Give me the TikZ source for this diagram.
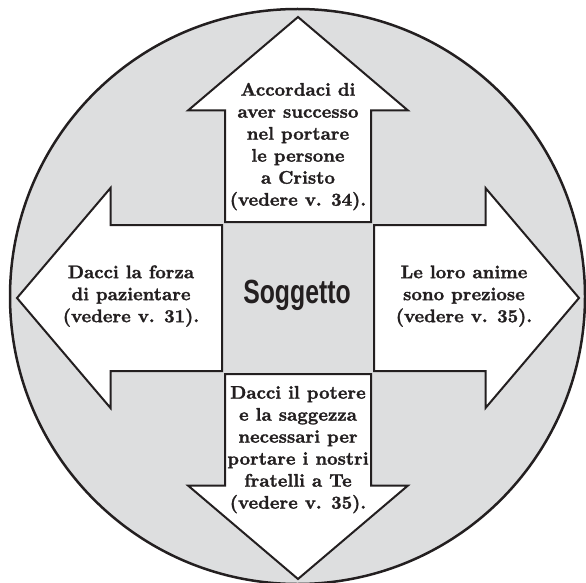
\documentclass[tikz,border=0pt]{standalone}
\usepackage{fontspec}
\newfontfamily\sogfont{Liberation Sans}
\newfontface\arrowfont{lmroman10-bold.otf}[FakeBold=1.5]
\definecolor{discgray}{RGB}{221,222,223}
\definecolor{ink}{RGB}{35,31,32}
\begin{document}
\begin{tikzpicture}[x=1pt,y=-1pt,
  arrowshape/.style={draw=ink, fill=white, line width=2pt, line join=miter},
  arrowtext/.style={align=center, inner sep=0pt, text=ink,
    font=\arrowfont\fontsize{18.3}{22}\selectfont},
  subjecttext/.style={inner sep=0pt, text=ink}
]
\useasboundingbox (0,0) rectangle (586,583);
\node[circle, draw=ink, fill=discgray, line width=2.5pt, minimum size=575pt, inner sep=0pt] (disc) at (297.5,296.5) {};
\foreach \ang in {0,90,180,270}{
  \begin{scope}[shift={(298,298)}, rotate=\ang]
    \draw[arrowshape] (0,-281) -- (110,-187.5) -- (73,-187.5) -- (73,-76)
      -- (-73,-76) -- (-73,-187.5) -- (-110,-187.5) -- cycle;
  \end{scope}
}
\node[arrowtext, anchor=north] (toptext) at (298,80.5)
  {\rule{0pt}{15pt}Accordaci di\\aver successo\\nel portare\\le persone\\a Cristo\\(vedere v. 34).};
\node[arrowtext, anchor=north] (bottomtext) at (298,383.5)
  {\rule{0pt}{15pt}Dacci il potere\\e la saggezza\\necessari per\\portare i nostri\\fratelli a Te\\(vedere v. 35).};
\node[arrowtext, anchor=north] (lefttext) at (131,263)
  {\rule{0pt}{15pt}Dacci la forza\\di pazientare\\(vedere v. 31).};
\node[arrowtext, anchor=north] (righttext) at (464,263)
  {\rule{0pt}{15pt}Le loro anime\\sono preziose\\(vedere v. 35).};
\node[subjecttext, anchor=base] (subject) at (297,303)
  {\scalebox{0.74}[1]{\sogfont\bfseries\fontsize{33.5}{36}\selectfont Soggetto}};
\end{tikzpicture}
\end{document}
